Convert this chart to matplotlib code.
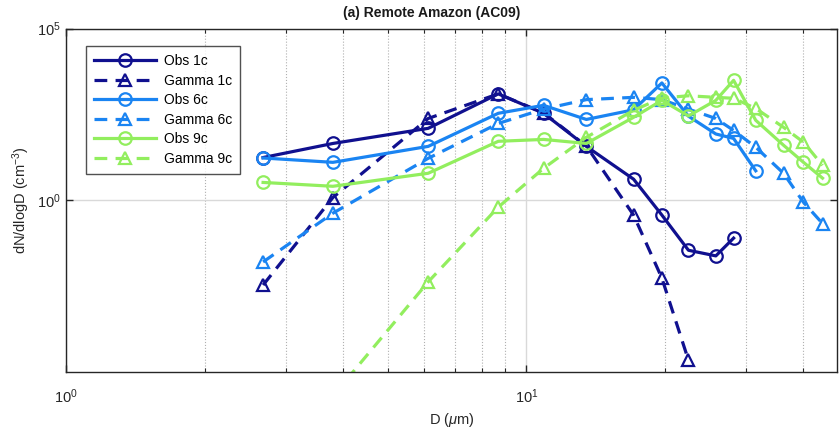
import numpy as np
import matplotlib
matplotlib.use("Agg")
import matplotlib.pyplot as plt
from matplotlib.ticker import LogLocator, NullLocator, LogFormatterSciNotation, NullFormatter

plt.rcParams["font.family"] = ["Liberation Sans", "DejaVu Sans"]
plt.rcParams["mathtext.fontset"] = "custom"
plt.rcParams["mathtext.rm"] = "Liberation Sans"
plt.rcParams["mathtext.it"] = "Liberation Sans:italic"

# Size bins (um) and number size distributions, dN/dlogD (cm^-3)
d_obs1 = [2.68, 3.80, 6.12, 8.69, 10.9, 13.5, 17.1, 19.7, 22.5, 25.8, 28.2]
obs_1c = [17.5, 45, 124, 1250, 340, 37, 4.1, 0.37, 0.035, 0.024, 0.079]

d_gam1 = [2.68, 3.80, 6.12, 8.69, 10.9, 13.5, 17.1, 19.7, 22.5]
gamma_1c = [0.0034, 1.2, 240, 1250, 350, 38, 0.37, 0.0054, 2.2e-5]

d_obs6 = [2.68, 3.80, 6.12, 8.69, 10.9, 13.5, 17.1, 19.7, 22.5, 25.8, 28.2, 31.5]
obs_6c = [17, 12.7, 37, 340, 580, 225, 430, 2600, 280, 85, 63, 7.2]

d_gam6 = [2.68, 3.80, 6.12, 8.69, 10.9, 13.5, 17.1, 19.7, 22.5, 25.8, 28.2, 31.5, 36.2, 40.0, 44.0]
gamma_6c = [0.016, 0.42, 16.6, 172, 450, 850, 990, 850, 450, 240, 108, 35, 6.1, 0.87, 0.21]

d_obs9 = [2.68, 3.80, 6.12, 8.69, 10.9, 13.5, 17.1, 19.7, 22.5, 25.8, 28.2, 31.5, 36.2, 40.0, 44.0]
obs_9c = [3.3, 2.55, 6.1, 52, 59, 45, 260, 810, 285, 810, 3100, 213, 40, 12.7, 4.4]

d_gam9 = [3.80, 6.12, 8.69, 10.9, 13.5, 17.1, 19.7, 22.5, 25.8, 28.2, 31.5, 36.2, 40.0, 44.0]
gamma_9c = [2e-6, 0.0042, 0.63, 8.5, 68, 415, 950, 1100, 990, 930, 470, 133, 49, 10.4]

c_1c = "#10108f"
c_6c = "#1a84f2"
c_9c = "#92ee5e"

fig = plt.figure(figsize=(8.4, 4.3), dpi=100)
ax = fig.add_axes([66 / 840, 1 - 372 / 430, (837 - 66) / 840, (372 - 28.5) / 430])

line_kw = dict(linewidth=2.3, markersize=9, markerfacecolor="none", markeredgewidth=1.6)
dash = (4, 2.6)

ax.plot(d_obs1, obs_1c, "-o", color=c_1c, label="Obs 1c", **line_kw)
ax.plot(d_gam1, gamma_1c, "--^", color=c_1c, dashes=dash, label="Gamma 1c", **line_kw)
ax.plot(d_obs6, obs_6c, "-o", color=c_6c, label="Obs 6c", **line_kw)
ax.plot(d_gam6, gamma_6c, "--^", color=c_6c, dashes=dash, label="Gamma 6c", **line_kw)
ax.plot(d_obs9, obs_9c, "-o", color=c_9c, label="Obs 9c", **line_kw)
ax.plot(d_gam9, gamma_9c, "--^", color=c_9c, dashes=dash, label="Gamma 9c", **line_kw)

ax.set_xscale("log")
ax.set_yscale("log")
ax.set_xlim(1, 47.3)
ax.set_ylim(1e-5, 1e5)

ax.xaxis.set_major_locator(LogLocator(base=10))
ax.xaxis.set_minor_locator(LogLocator(base=10, subs=np.arange(2, 10)))
ax.xaxis.set_minor_formatter(NullFormatter())
ax.set_yticks([1, 1e5])
ax.yaxis.set_major_formatter(LogFormatterSciNotation())
ax.yaxis.set_minor_locator(NullLocator())

ax.tick_params(which="both", direction="in", top=True, right=True, colors="#262626",
               labelsize=10.5, labelcolor="#262626")
ax.tick_params(which="major", length=5, width=1)
ax.tick_params(which="minor", length=3, width=0.8)
ax.tick_params(axis="x", which="major", pad=11)

# grid: solid at decades, dotted at minor x ticks
ax.grid(which="major", color="#d9d9d9", linestyle="-", linewidth=1)
ax.grid(which="minor", axis="x", color="#b0b0b0", linestyle=":", linewidth=0.8)
ax.set_axisbelow(True)
for sp in ax.spines.values():
    sp.set_color("#262626")
    sp.set_linewidth(1)

ax.set_xlabel(r"D ($\mu$m)", fontsize=10.5, color="#262626", labelpad=4)
ax.set_ylabel(r"dN/dlogD (cm$^{-3}$)", fontsize=10.5, color="#262626", labelpad=4)
fig.text(432 / 840, 1 - 13 / 430, "(a) Remote Amazon (AC09)", ha="center", va="center",
         fontsize=10, fontweight="bold", color="#1a1a1a")

leg = ax.legend(loc="upper left", bbox_to_anchor=(20 / 771, 1 - 18 / 343.5), handlelength=4.5,
                fontsize=10, frameon=True, fancybox=False, edgecolor="#262626", borderpad=0.55,
                labelspacing=0.4, handletextpad=0.55, borderaxespad=0)
leg.get_frame().set_linewidth(1)

fig.savefig("out.png", dpi=100)
